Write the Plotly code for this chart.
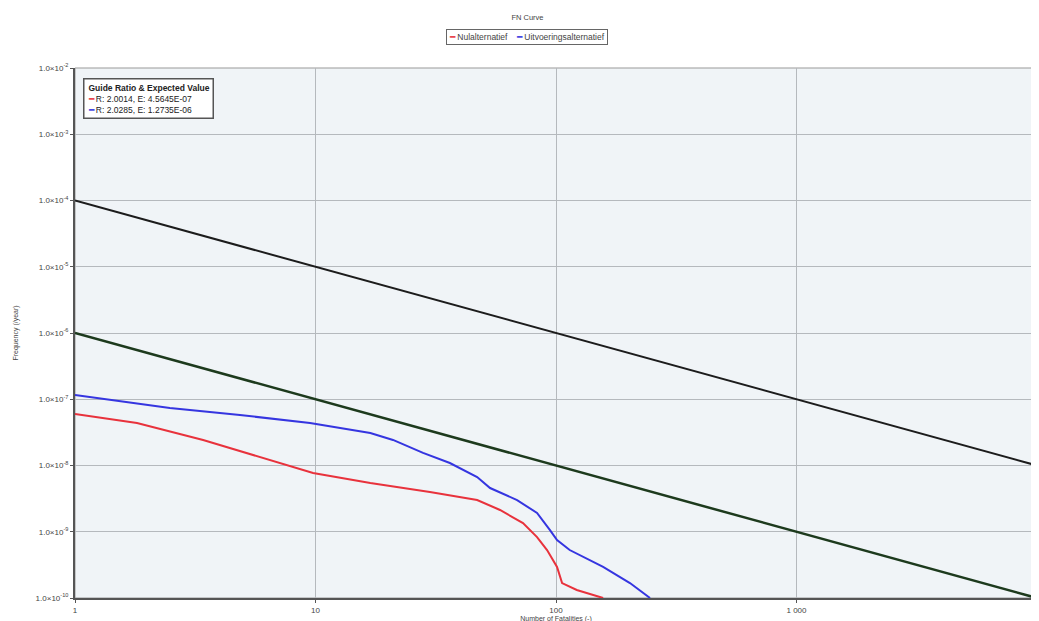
import plotly.graph_objects as go

# Data
red_n = [1, 1.81, 3.41, 6.47, 9.77, 16.9, 29.9, 47, 58.5, 72.9, 83.4, 91.8, 101, 106, 122, 157]
red_f = [5.98e-8, 4.39e-8, 2.43e-8, 1.21e-8, 7.7e-9, 5.44e-9, 3.98e-9, 3.01e-9, 2.13e-9,
         1.35e-9, 8.3e-10, 5.3e-10, 2.94e-10, 1.68e-10, 1.32e-10, 1.0e-10]
blue_n = [1, 2.48, 4.85, 9.49, 16.9, 21, 28, 36.2, 47, 53.2, 68.9, 83.4, 94.4, 101, 114, 157, 203, 246]
blue_f = [1.16e-7, 7.38e-8, 5.78e-8, 4.38e-8, 3.1e-8, 2.43e-8, 1.55e-8, 1.09e-8, 6.7e-9, 4.57e-9,
          3.01e-9, 1.92e-9, 1.06e-9, 7.5e-10, 5.3e-10, 2.94e-10, 1.68e-10, 1.0e-10]
upper_n = [1, 10000]
upper_f = [1e-4, 1e-8]
lower_n = [1, 10000]
lower_f = [1e-6, 1e-10]

series_names = ["Nulalternatief", "Uitvoeringsalternatief"]
y_exps = list(range(-10, -1))
y_ticktext = ["1.0×10<sup>%d</sup>" % e for e in y_exps]
x_tickvals = [1, 10, 100, 1000, 10000]
x_ticktext = ["1", "10", "100", "1 000", "10 000"]
guide_lines = ["R: 2.0014, E: 4.5645E-07", "R: 2.0285, E: 1.2735E-06"]

RED = "#e8323c"
BLUE = "#3535e0"
DASH = "━"

fig = go.Figure()
fig.add_trace(go.Scatter(x=upper_n, y=upper_f, mode="lines", showlegend=False,
                         line=dict(color="#1c1c1c", width=2)))
fig.add_trace(go.Scatter(x=lower_n, y=lower_f, mode="lines", showlegend=False,
                         line=dict(color="#1d3a1d", width=2.5)))
fig.add_trace(go.Scatter(x=red_n, y=red_f, mode="lines", name=series_names[0],
                         showlegend=False, line=dict(color=RED, width=2)))
fig.add_trace(go.Scatter(x=blue_n, y=blue_f, mode="lines", name=series_names[1],
                         showlegend=False, line=dict(color=BLUE, width=2)))

# Guide ratio box
fig.add_annotation(
    xref="paper", yref="paper", x=0.008, y=0.982, xanchor="left", yanchor="top",
    text=("<b>Guide Ratio &amp; Expected Value</b><br>"
          "<span style='color:%s'>%s</span> %s<br>"
          "<span style='color:%s'>%s</span> %s") % (RED, DASH, guide_lines[0], BLUE, DASH, guide_lines[1]),
    showarrow=False, align="left", font=dict(size=8.5, color="#222", family="Arial"),
    bordercolor="#555", borderwidth=1.5, borderpad=3, bgcolor="white",
)

# Compact legend box at the top
fig.add_annotation(
    xref="paper", yref="paper", x=0.47, y=1.058, xanchor="center", yanchor="middle",
    text=("<span style='color:%s'>%s</span> %s    "
          "<span style='color:%s'>%s</span> %s") % (RED, DASH, series_names[0], BLUE, DASH, series_names[1]),
    showarrow=False, align="left", font=dict(size=8.5, color="#444", family="Arial"),
    bordercolor="#666", borderwidth=1, borderpad=2, bgcolor="white",
)

# The page body adds an 8px offset, so margins are reduced accordingly
fig.update_layout(
    width=1039, height=621,
    margin=dict(l=67, r=10, t=60, b=31, autoexpand=False),
    paper_bgcolor="white",
    plot_bgcolor="#f0f4f7",
    font=dict(family="Arial", size=7, color="#444"),
    showlegend=False,
    title=dict(text="FN Curve", x=0.5, xanchor="center", y=0.985, yanchor="middle",
               font=dict(size=7.5, color="#444")),
    xaxis=dict(type="log", range=[0, 4], tickvals=x_tickvals, ticktext=x_ticktext,
               showgrid=True, gridcolor="#b5b9bd", gridwidth=1, automargin=False,
               showline=True, linecolor="#555", linewidth=2, mirror=False,
               ticks="outside", ticklen=3, tickcolor="#555",
               tickfont=dict(size=8),
               title=dict(text="Number of Fatalities (-)", standoff=0, font=dict(size=7)),
               zeroline=False),
    yaxis=dict(type="log", range=[-10, -2], tickvals=[10.0 ** e for e in y_exps],
               ticktext=y_ticktext, automargin=False,
               showgrid=True, gridcolor="#b5b9bd", gridwidth=1,
               showline=True, linecolor="#555", linewidth=2, mirror=False,
               ticks="outside", ticklen=3, tickcolor="#555",
               tickfont=dict(size=8),
               title=dict(text="Frequency (/year)", standoff=16, font=dict(size=7)),
               zeroline=False),
)
# outer frame (top/right)
fig.add_shape(type="rect", xref="paper", yref="paper", x0=0, y0=0, x1=1, y1=1,
              line=dict(color="#999", width=1), layer="below")

fig.write_html("out.html")
